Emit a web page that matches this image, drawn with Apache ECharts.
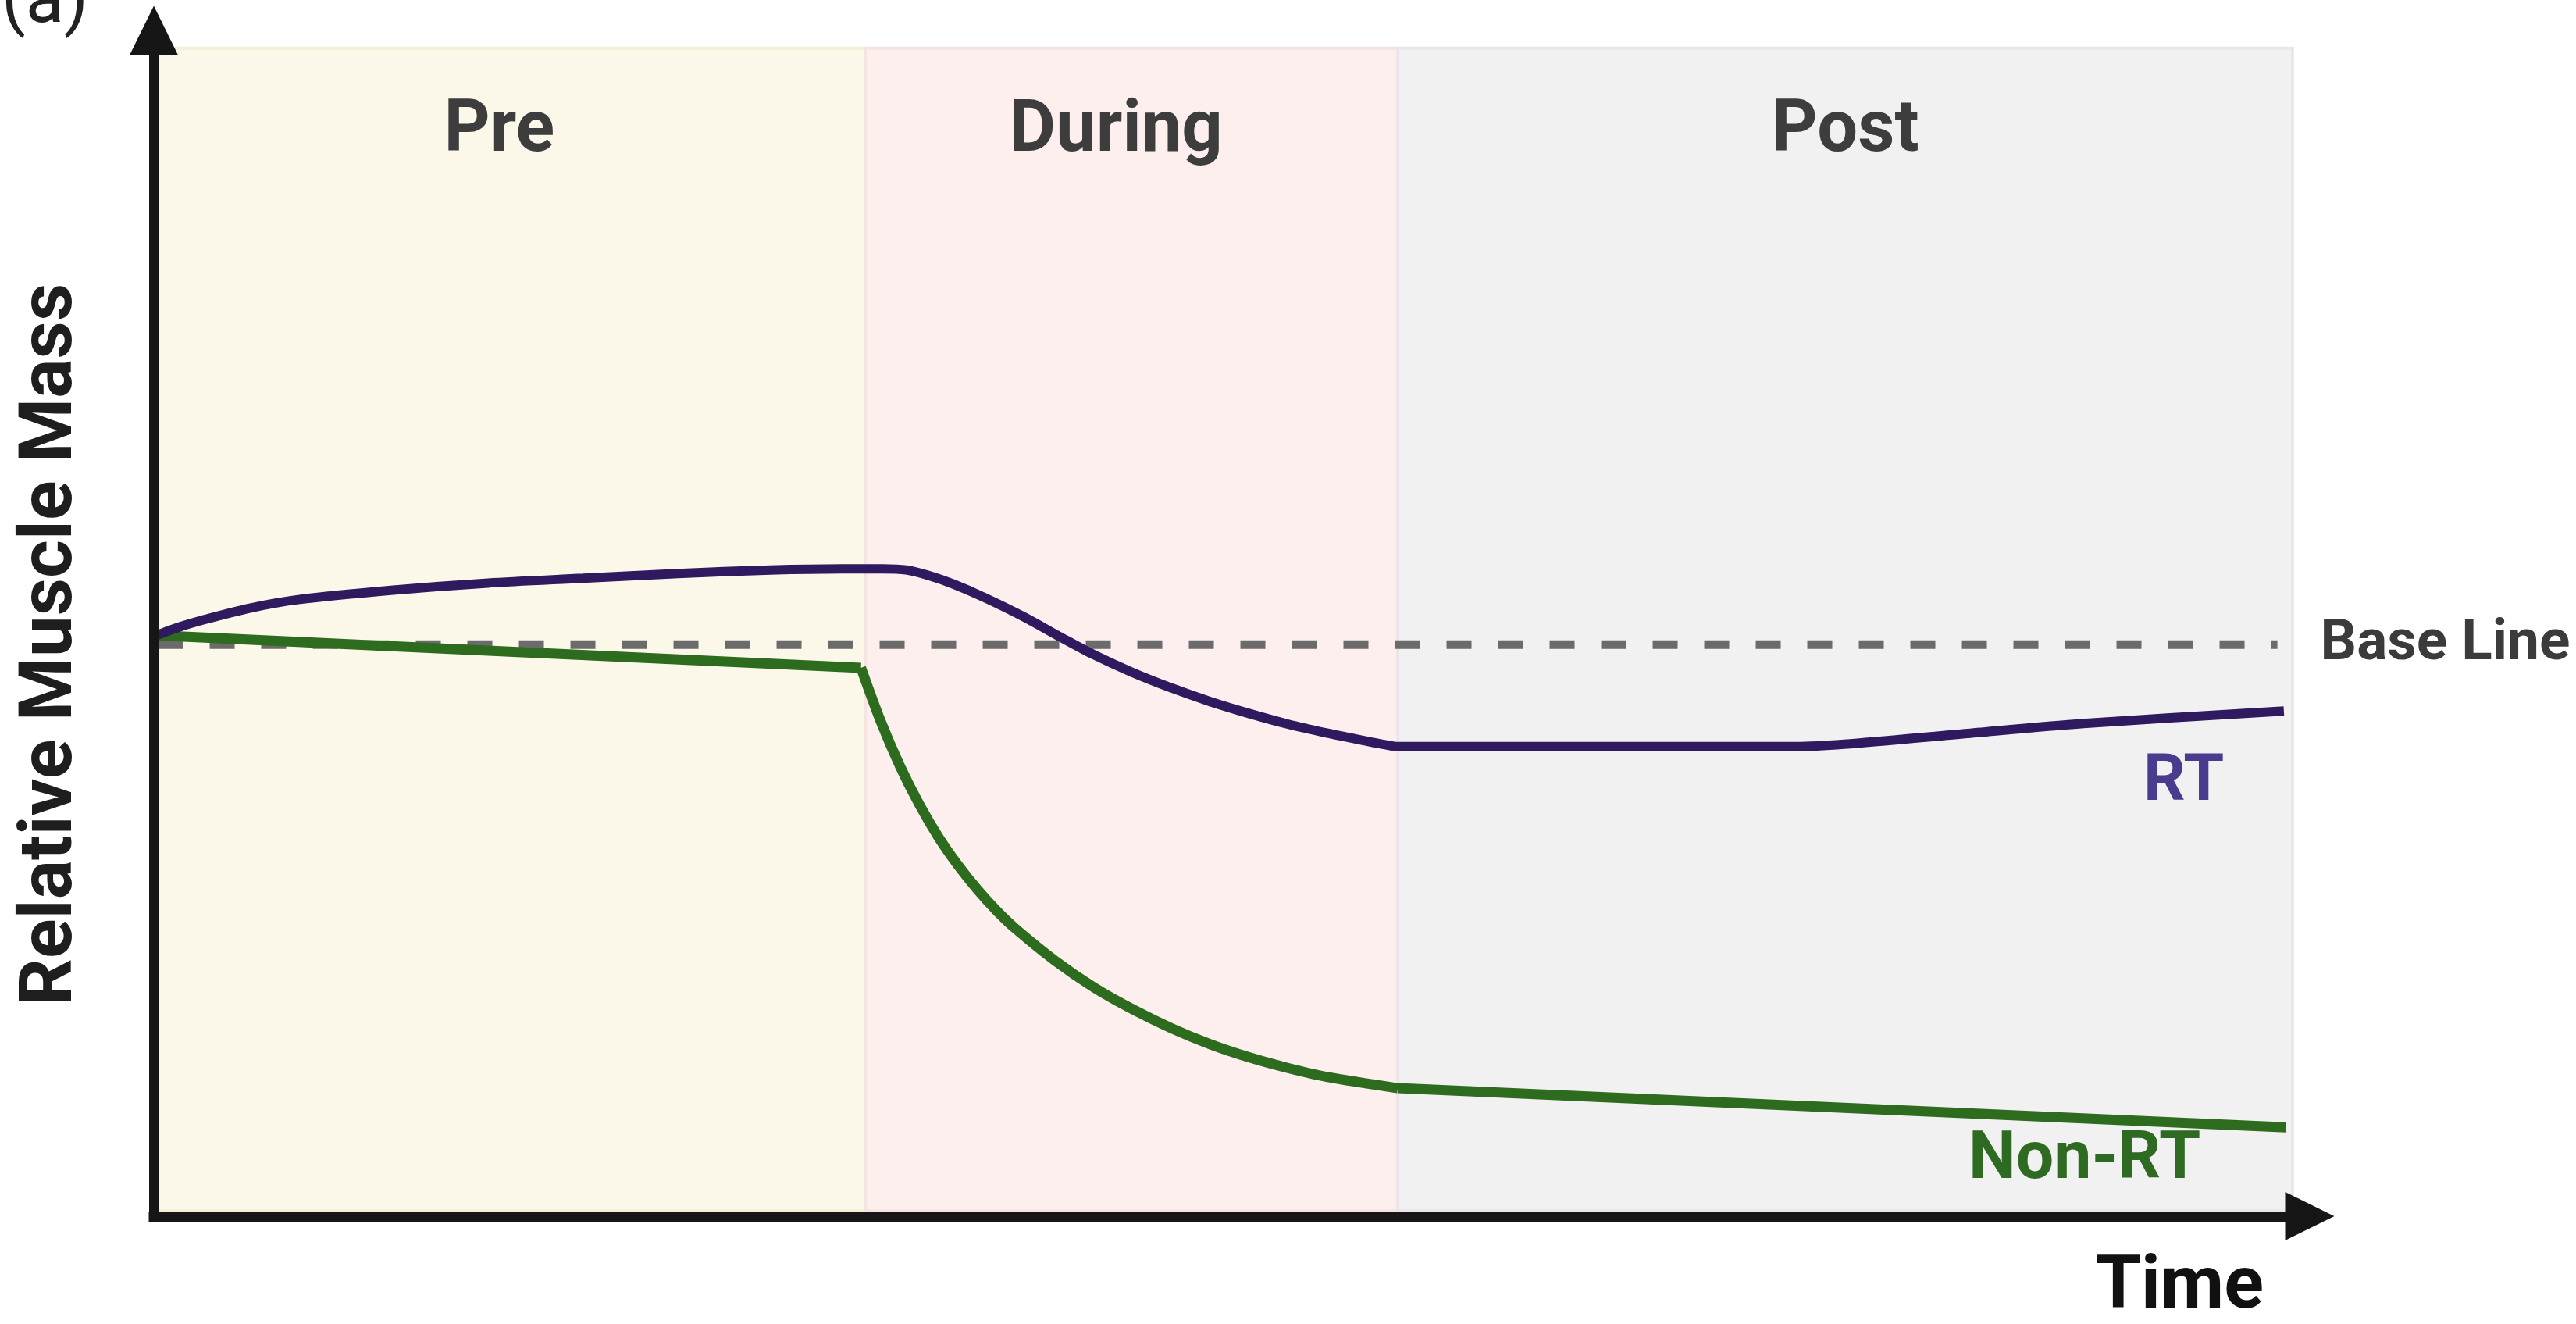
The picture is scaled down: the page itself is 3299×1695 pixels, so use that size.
<!DOCTYPE html>
<html>
<head>
<meta charset="utf-8">
<script src="https://cdn.jsdelivr.net/npm/echarts@6/dist/echarts.min.js"></script>
<style>
	html, body { margin: 0; padding: 0; background: #fff; }
	#chart { width: 3299px; height: 1695px; }
</style>
</head>
<body>
<div id="chart"></div>
<script>
	const FONT = 'Roboto, "Liberation Sans", sans-serif';

	// phases along the time axis
	const phaseNames = ['Pre', 'During', 'Post'];
	const phaseStart = [0.2, 33, 57.7];
	const phaseEnd = [33, 57.7, 99.2];
	const phaseColors = ['#fbf8e9', '#fcefee', '#f1f1f1'];
	const phaseBorders = ['#f6efd6', '#f6e4e2', '#ebe6ea'];
	const phaseTop = 98.5;

	const baseLevel = 48.2;
	const baseEnd = 98.5;

	// RT curve
	const rtTime = [0, 1.2, 2.3, 4.5, 6.7, 11.1, 15.5, 19.9, 24.3, 28.6, 31.9, 33.8, 34.9, 36.0, 37.1, 38.5, 40.3, 42.1, 43.6, 45.4, 47.2, 49.0, 50.8, 52.6, 54.4, 55.9, 57.0, 57.7, 74.3, 76.2, 78.4, 84.0, 89.5, 98.8];
	const rtMass = [48.9, 49.7, 50.3, 51.3, 52.0, 52.8, 53.4, 53.8, 54.2, 54.5, 54.6, 54.6, 54.5, 54.0, 53.3, 52.2, 50.6, 48.8, 47.35, 45.85, 44.55, 43.4, 42.4, 41.5, 40.75, 40.2, 39.8, 39.6, 39.6, 39.6, 39.8, 40.7, 41.55, 42.6];

	// Non-RT curve, split where it has corners
	const nonRtPreTime = [0, 32.8];
	const nonRtPreMass = [49.0, 46.25];
	const nonRtDuringTime = [32.8, 33.7, 34.6, 35.5, 36.4, 37.3, 38.2, 39.1, 40.0, 41.8, 43.6, 45.4, 47.2, 49.0, 50.8, 52.6, 54.4, 57.7];
	const nonRtDuringMass = [46.25, 41.8, 38.0, 34.75, 31.95, 29.6, 27.55, 25.75, 24.2, 21.55, 19.3, 17.45, 15.85, 14.5, 13.4, 12.5, 11.75, 10.8];
	const nonRtPostTime = [57.7, 98.9];
	const nonRtPostMass = [10.8, 7.5];

	const RT_COLOR = '#2f1a5f';
	const NON_RT_COLOR = '#2d6b1e';
	const AXIS_COLOR = '#161616';

	let zip = (xs, ys) => xs.map((x, i) => [x, ys[i]]);

	let phaseAreas = phaseNames.map((name, i) => [
		{
			name: name,
			xAxis: phaseStart[i],
			yAxis: 0.45,
			itemStyle: { color: phaseColors[i], borderColor: phaseBorders[i], borderWidth: 4 },
			label: { offset: [[-16, -20, 0][i], 0] }
		},
		{ xAxis: phaseEnd[i], yAxis: phaseTop }
	]);

	let nonRtLine = (name, xs, ys, smooth) => ({
		name: name,
		type: 'line',
		data: zip(xs, ys),
		symbol: 'none',
		smooth: smooth,
		lineStyle: { color: NON_RT_COLOR, width: 13 },
		z: 4
	});

	let axisLine = () => ({
		show: true,
		onZero: false,
		symbol: ['none', 'triangle'],
		symbolSize: [62, 63],
		lineStyle: { color: AXIS_COLOR, width: 13, cap: 'square' }
	});

	let option = {
		animation: false,
		backgroundColor: '#ffffff',
		grid: { left: 197, right: 341, top: 39, bottom: 138 },
		xAxis: {
			type: 'value',
			min: 0,
			max: 100,
			z: 10,
			axisLine: axisLine(),
			axisTick: { show: false },
			axisLabel: { show: false },
			splitLine: { show: false }
		},
		yAxis: {
			type: 'value',
			min: 0,
			max: 100,
			z: 10,
			axisLine: axisLine(),
			axisTick: { show: false },
			axisLabel: { show: false },
			splitLine: { show: false }
		},
		series: [
			{
				name: 'Base Line',
				type: 'line',
				data: [[phaseStart[0], baseLevel], [baseEnd, baseLevel]],
				symbol: 'none',
				lineStyle: { color: '#6b6b6b', width: 11, type: [32, 34] },
				z: 3,
				endLabel: {
					show: true,
					formatter: 'Base Line',
					distance: 55,
					fontSize: 73,
					fontWeight: 'bold',
					color: '#3b3b3b',
					fontFamily: FONT
				},
				markArea: {
					silent: true,
					z: 1,
					label: {
						show: true,
						position: 'insideTop',
						distance: 64,
						fontSize: 92,
						fontWeight: 'bold',
						color: '#3d3d3d',
						fontFamily: FONT
					},
					data: phaseAreas
				}
			},
			{
				name: 'RT',
				type: 'line',
				data: zip(rtTime, rtMass),
				symbol: 'none',
				smooth: 0.3,
				lineStyle: { color: RT_COLOR, width: 12 },
				z: 5
			},
			nonRtLine('Non-RT', nonRtPreTime, nonRtPreMass, false),
			nonRtLine('Non-RT', nonRtDuringTime, nonRtDuringMass, 0.3),
			nonRtLine('Non-RT', nonRtPostTime, nonRtPostMass, false)
		],
		graphic: [
			{
				type: 'text',
				z: 100,
				x: 2,
				y: 50,
				style: { text: '(a)', fontSize: 90, fontFamily: FONT, fill: '#222', verticalAlign: 'bottom' }
			},
			{
				type: 'text',
				z: 100,
				x: 67,
				y: 825,
				rotation: Math.PI / 2,
				style: { text: 'Relative Muscle Mass', fontSize: 94, fontWeight: 'bold', fontFamily: FONT, fill: '#1e1e1e', align: 'center', verticalAlign: 'middle' }
			},
			{
				type: 'text',
				z: 100,
				x: 2745,
				y: 1003,
				style: { text: 'RT', fontSize: 84, fontWeight: 'bold', fontFamily: FONT, fill: '#4b3b8f', verticalAlign: 'middle' }
			},
			{
				type: 'text',
				z: 100,
				x: 2521,
				y: 1486,
				style: { text: 'Non-RT', fontSize: 86, fontWeight: 'bold', fontFamily: FONT, fill: '#2e6a22', verticalAlign: 'middle' }
			},
			{
				type: 'text',
				z: 100,
				x: 2899,
				y: 1650,
				style: { text: 'Time', fontSize: 94, fontWeight: 'bold', fontFamily: FONT, fill: '#111', align: 'right', verticalAlign: 'middle' }
			}
		]
	};

	let myChart = echarts.init(document.getElementById('chart'));
	myChart.setOption(option);
</script>
</body>
</html>
